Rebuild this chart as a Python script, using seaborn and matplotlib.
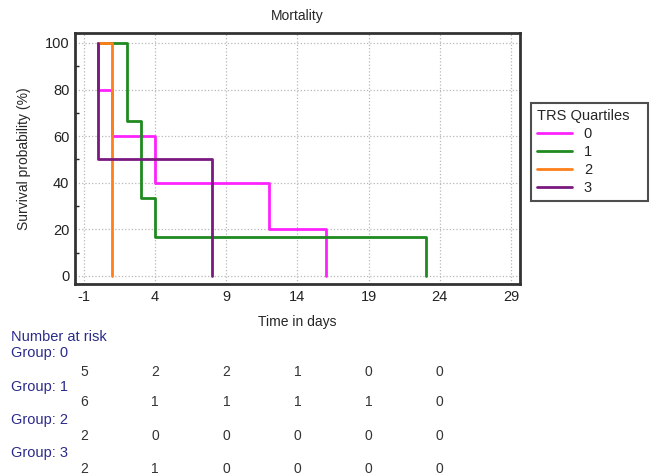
import pandas as pd
import seaborn as sns
import matplotlib.pyplot as plt
import matplotlib.transforms as mtransforms
from matplotlib.ticker import MultipleLocator

# Kaplan-Meier steps (time in days, survival %)
groups = ["0", "1", "2", "3"]
times_g0 = [0, 0, 1, 4, 12, 16]
surv_g0 = [100, 80, 60, 40, 20, 0]
times_g1 = [0, 2, 3, 4, 23]
surv_g1 = [100, 66.7, 33.3, 16.7, 0]
times_g2 = [0, 1]
surv_g2 = [100, 0]
times_g3 = [0, 0, 8]
surv_g3 = [100, 50, 0]

# Number at risk table
risk_times = [-1, 4, 9, 14, 19, 24]
risk_g0 = [5, 2, 2, 1, 0, 0]
risk_g1 = [6, 1, 1, 1, 1, 0]
risk_g2 = [2, 0, 0, 0, 0, 0]
risk_g3 = [2, 1, 0, 0, 0, 0]

colors = ["#ff22ff", "#1f8a1f", "#ff7f1a", "#7a1a80"]

rows = []
for g, t, s in zip(groups, [times_g0, times_g1, times_g2, times_g3],
                   [surv_g0, surv_g1, surv_g2, surv_g3]):
    for ti, si in zip(t, s):
        rows.append({"group": g, "time": ti, "surv": si})
df = pd.DataFrame(rows)

sns.set_theme(style="white")
plt.rcParams["font.family"] = ["Liberation Sans", "DejaVu Sans"]
plt.rcParams["axes.unicode_minus"] = False

fig = plt.figure(figsize=(6.56, 4.76), dpi=100)
ax = fig.add_axes([0.1143, 0.4034, 0.6784, 0.5273])

sns.lineplot(data=df, x="time", y="surv", hue="group", palette=colors,
             estimator=None, sort=False, drawstyle="steps-post",
             linewidth=2, ax=ax)

ax.set_xlim(-1.63, 29.63)
ax.set_ylim(-3.5, 104.3)
ax.set_xticks(risk_times + [29])
ax.set_yticks([0, 20, 40, 60, 80, 100])
ax.yaxis.set_minor_locator(MultipleLocator(10))
ax.tick_params(axis="both", which="major", direction="in", length=6, width=1.8,
               labelsize=10.5, colors="#222222", pad=4)
ax.tick_params(axis="y", which="minor", direction="in", length=3, width=1,
               colors="#222222", left=True)
ax.grid(True, which="major", linestyle=":", color="#b8b8b8", linewidth=0.9)
for sp in ax.spines.values():
    sp.set_color("#333333")
    sp.set_linewidth(2)

ax.set_title("Mortality", fontsize=10, pad=9)
ax.set_xlabel("Time in days", fontsize=10, labelpad=8)
ax.set_ylabel("Survival probability (%)", fontsize=10, labelpad=10)

leg = ax.legend(title="TRS Quartiles   ", loc="center left",
                bbox_to_anchor=(1.009, 0.525), fancybox=False, frameon=True,
                edgecolor="#222222", fontsize=10.5, title_fontsize=10.5,
                handlelength=2.4, borderpad=0.4, labelspacing=0.28)
leg.get_frame().set_linewidth(1.5)
leg._legend_box.align = "left"

# Number at risk below the axes
trans = mtransforms.blended_transform_factory(ax.transData, fig.transFigure)
navy = "#2a2a8a"
fig.text(0.017, 1 - 337 / 476, "Number at risk", color=navy, fontsize=10.5,
         va="center")
label_y = [353, 387, 420, 453]
num_y = [372, 402, 436, 469]
for g, ly, ny, vals in zip(groups, label_y, num_y,
                           [risk_g0, risk_g1, risk_g2, risk_g3]):
    fig.text(0.017, 1 - ly / 476, f"Group: {g}", color=navy, fontsize=10.5,
             va="center")
    for t, v in zip(risk_times, vals):
        ax.text(t, 1 - ny / 476, str(v), transform=trans, ha="center",
                va="center", fontsize=10, color="#333333")

fig.savefig("out.png", dpi=100)
